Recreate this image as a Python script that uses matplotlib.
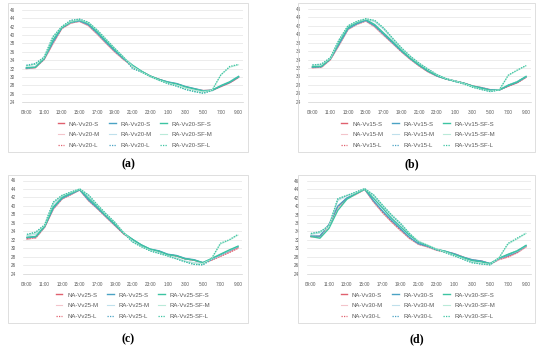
import matplotlib
matplotlib.use("Agg")
import matplotlib.pyplot as plt
from matplotlib.patches import Rectangle

# horas (eje x, una por hora, etiqueta cada dos)
hours = ["09:00", "10:00", "11:00", "12:00", "13:00", "14:00", "15:00", "16:00",
         "17:00", "18:00", "19:00", "20:00", "21:00", "22:00", "23:00", "0:00",
         "1:00", "2:00", "3:00", "4:00", "5:00", "6:00", "7:00", "8:00", "9:00"]
yticks = [24, 26, 28, 30, 32, 34, 36, 38, 40, 42, 44, 46]

# panel (a) Vv20
a_na_s = [32.0, 32.2, 34.2, 38.0, 41.6, 42.9, 43.3, 42.3, 40.3, 38.1, 36.0, 34.2, 32.6, 31.3, 30.2, 29.4, 28.7, 28.3, 27.6, 27.1, 26.7, 26.8, 27.7, 28.6, 29.9]
a_ra_s = [32.1, 32.3, 34.3, 38.3, 41.7, 43.0, 43.4, 42.5, 40.5, 38.3, 36.2, 34.3, 32.7, 31.3, 30.2, 29.4, 28.8, 28.4, 27.7, 27.2, 26.7, 26.8, 27.8, 28.7, 30.0]
a_sf_s = [32.2, 32.3, 34.4, 38.8, 41.8, 43.1, 43.6, 42.8, 40.8, 38.6, 36.5, 34.5, 32.8, 31.4, 30.2, 29.4, 28.7, 28.3, 27.6, 27.1, 26.6, 26.8, 27.9, 28.8, 30.1]
a_na_m = [32.0, 32.2, 34.1, 37.9, 41.5, 42.8, 43.3, 42.2, 40.2, 38.0, 35.9, 34.1, 32.6, 31.3, 30.2, 29.4, 28.8, 28.4, 27.7, 27.2, 26.8, 26.9, 27.8, 28.7, 30.0]
a_ra_m = [32.3, 32.5, 34.5, 39.0, 41.9, 43.1, 43.6, 43.0, 41.0, 38.8, 36.7, 34.6, 32.8, 31.4, 30.2, 29.3, 28.6, 28.2, 27.5, 27.0, 26.6, 26.8, 28.0, 28.9, 30.2]
a_sf_m = [32.6, 33.0, 34.6, 39.5, 42.0, 43.3, 43.7, 43.0, 41.2, 39.0, 36.8, 34.7, 32.5, 31.2, 30.1, 29.2, 28.5, 28.0, 27.3, 26.8, 26.4, 26.8, 30.5, 32.3, 32.9]
a_na_l = [32.1, 32.3, 34.2, 38.1, 41.6, 42.9, 43.4, 42.4, 40.4, 38.2, 36.1, 34.2, 32.6, 31.3, 30.2, 29.4, 28.7, 28.2, 27.5, 27.0, 26.6, 26.8, 27.7, 28.6, 29.9]
a_ra_l = [32.8, 33.2, 34.7, 39.6, 42.0, 43.5, 43.8, 43.0, 41.2, 39.0, 36.8, 34.7, 32.0, 31.2, 30.1, 29.2, 28.4, 27.8, 27.0, 26.5, 26.1, 26.7, 27.9, 28.8, 30.1]
a_sf_l = [32.7, 33.1, 34.7, 39.6, 42.0, 43.5, 43.8, 43.1, 41.2, 39.0, 36.8, 34.7, 32.1, 31.2, 30.1, 29.2, 28.4, 27.8, 27.0, 26.5, 26.1, 26.8, 30.5, 32.5, 33.0]

# panel (b) Vv15
b_na_s = [32.1, 32.2, 34.0, 37.5, 41.2, 42.4, 43.2, 41.8, 39.8, 37.9, 35.9, 34.1, 32.5, 31.1, 30.1, 29.4, 28.9, 28.4, 27.7, 27.3, 26.8, 26.8, 27.7, 28.5, 29.8]
b_ra_s = [32.2, 32.3, 34.1, 37.7, 41.3, 42.5, 43.3, 42.0, 40.0, 38.0, 36.0, 34.2, 32.6, 31.2, 30.1, 29.4, 28.9, 28.4, 27.7, 27.3, 26.8, 26.8, 27.8, 28.6, 29.9]
b_sf_s = [32.3, 32.4, 34.2, 38.2, 41.6, 42.8, 43.5, 42.3, 40.3, 38.3, 36.2, 34.3, 32.7, 31.3, 30.2, 29.4, 28.9, 28.4, 27.7, 27.2, 26.7, 26.8, 27.9, 28.7, 30.0]
b_na_m = [32.0, 32.1, 33.9, 37.4, 41.1, 42.3, 43.1, 41.7, 39.7, 37.8, 35.8, 34.0, 32.5, 31.1, 30.1, 29.4, 28.9, 28.4, 27.8, 27.4, 26.9, 26.9, 27.8, 28.6, 29.8]
b_ra_m = [32.5, 32.7, 34.3, 38.5, 41.9, 42.9, 43.6, 43.0, 41.2, 38.9, 36.6, 34.6, 33.0, 31.6, 30.4, 29.5, 28.9, 28.3, 27.6, 27.0, 26.6, 26.8, 28.0, 28.8, 30.0]
b_sf_m = [32.6, 32.8, 34.3, 38.6, 42.0, 43.0, 43.6, 43.2, 41.4, 39.0, 36.7, 34.7, 33.1, 31.7, 30.4, 29.5, 28.9, 28.3, 27.5, 26.9, 26.5, 26.8, 30.2, 31.4, 32.5]
b_na_l = [32.1, 32.2, 34.0, 37.6, 41.3, 42.4, 43.2, 41.9, 39.9, 37.9, 35.9, 34.1, 32.5, 31.1, 30.1, 29.4, 28.9, 28.4, 27.7, 27.3, 26.8, 26.8, 27.7, 28.5, 29.8]
b_ra_l = [32.7, 32.9, 34.4, 38.7, 42.0, 43.0, 43.6, 43.2, 41.4, 39.0, 36.7, 34.7, 33.1, 31.7, 30.4, 29.5, 28.8, 28.3, 27.5, 26.9, 26.4, 26.8, 27.9, 28.7, 30.0]
b_sf_l = [32.7, 32.9, 34.4, 38.7, 42.0, 43.1, 43.7, 43.3, 41.5, 39.1, 36.8, 34.8, 33.1, 31.7, 30.4, 29.5, 28.8, 28.2, 27.4, 26.9, 26.4, 26.8, 30.3, 31.5, 32.6]

# panel (c) Vv25
c_na_s = [32.2, 32.5, 35.0, 39.3, 41.7, 42.7, 43.8, 41.3, 39.4, 37.4, 35.4, 33.4, 32.0, 30.7, 29.7, 29.3, 28.5, 28.2, 27.5, 27.2, 26.5, 27.3, 28.2, 29.1, 30.1]
c_ra_s = [32.5, 32.7, 35.1, 39.5, 41.8, 42.8, 43.8, 41.4, 39.5, 37.5, 35.5, 33.5, 32.1, 30.8, 29.8, 29.4, 28.6, 28.3, 27.6, 27.3, 26.6, 27.5, 28.4, 29.4, 30.4]
c_sf_s = [32.6, 32.8, 35.2, 39.8, 42.0, 43.0, 43.9, 41.8, 39.8, 37.7, 35.7, 33.6, 32.1, 30.8, 29.8, 29.3, 28.5, 28.2, 27.5, 27.2, 26.6, 27.6, 28.6, 29.6, 30.5]
c_na_m = [32.2, 32.4, 34.9, 39.2, 41.6, 42.7, 43.7, 41.2, 39.3, 37.3, 35.4, 33.4, 32.0, 30.6, 29.6, 29.2, 28.5, 28.2, 27.5, 27.2, 26.6, 27.2, 28.1, 29.0, 30.0]
c_ra_m = [32.9, 33.3, 35.3, 40.5, 42.3, 43.1, 43.9, 42.3, 40.0, 38.0, 36.0, 33.7, 31.8, 30.5, 29.6, 29.0, 28.3, 27.7, 27.0, 26.6, 26.5, 27.4, 28.4, 29.4, 30.4]
c_sf_m = [33.1, 33.6, 35.4, 40.8, 42.5, 43.2, 44.0, 42.5, 40.2, 38.0, 36.1, 33.7, 31.6, 30.4, 29.5, 28.9, 28.2, 27.6, 26.9, 26.5, 26.4, 27.5, 31.0, 31.9, 33.1]
c_na_l = [32.3, 32.5, 35.0, 39.4, 41.7, 42.7, 43.8, 41.3, 39.4, 37.4, 35.4, 33.4, 32.0, 30.6, 29.6, 29.2, 28.5, 28.2, 27.5, 27.2, 26.6, 27.2, 28.1, 29.0, 30.0]
c_ra_l = [33.2, 33.8, 35.5, 40.9, 42.5, 43.2, 44.0, 42.5, 40.2, 38.1, 36.1, 33.6, 31.5, 30.4, 29.4, 28.8, 28.2, 27.5, 26.8, 26.2, 26.1, 27.3, 28.5, 29.5, 30.4]
c_sf_l = [33.3, 33.8, 35.5, 40.9, 42.5, 43.3, 44.0, 42.6, 40.3, 38.1, 36.1, 33.6, 31.5, 30.4, 29.4, 28.8, 28.2, 27.5, 26.8, 26.2, 26.1, 27.6, 31.2, 32.0, 33.3]

# panel (d) Vv30
d_na_s = [32.8, 32.8, 35.5, 39.8, 41.8, 42.8, 44.0, 41.0, 38.5, 36.3, 34.3, 32.4, 31.0, 30.4, 29.6, 29.2, 28.7, 27.9, 27.2, 27.0, 26.3, 27.4, 28.0, 29.0, 30.4]
d_ra_s = [32.9, 32.9, 35.6, 40.0, 41.9, 42.9, 44.0, 41.2, 38.8, 36.6, 34.6, 32.6, 31.1, 30.5, 29.7, 29.3, 28.7, 27.9, 27.3, 27.0, 26.4, 27.6, 28.3, 29.2, 30.6]
d_sf_s = [32.8, 32.4, 34.7, 39.0, 41.6, 42.9, 44.0, 41.8, 39.5, 37.1, 35.1, 33.1, 31.6, 30.7, 29.8, 29.3, 28.5, 27.8, 27.1, 26.8, 26.4, 27.7, 28.6, 29.4, 30.7]
d_na_m = [32.7, 32.7, 35.4, 39.7, 41.7, 42.7, 43.9, 40.9, 38.4, 36.2, 34.2, 32.3, 30.9, 30.3, 29.5, 29.1, 28.7, 27.9, 27.2, 27.0, 26.3, 27.3, 27.9, 28.9, 30.3]
d_ra_m = [33.3, 33.6, 35.3, 41.3, 42.4, 43.1, 44.0, 42.4, 40.0, 37.7, 35.6, 33.4, 31.6, 30.7, 29.8, 29.2, 28.4, 27.6, 26.8, 26.4, 26.2, 27.6, 28.5, 29.3, 30.6]
d_sf_m = [33.4, 33.8, 35.2, 41.6, 42.5, 43.2, 44.1, 42.6, 40.2, 37.9, 35.9, 33.5, 31.7, 30.8, 29.8, 29.1, 28.3, 27.5, 26.7, 26.4, 26.2, 27.8, 31.0, 32.2, 33.5]
d_na_l = [32.8, 32.8, 35.5, 39.8, 41.8, 42.8, 44.0, 41.0, 38.5, 36.3, 34.3, 32.4, 31.0, 30.4, 29.6, 29.2, 28.7, 27.9, 27.2, 27.0, 26.3, 27.4, 28.0, 29.0, 30.4]
d_ra_l = [33.5, 33.9, 35.3, 41.7, 42.5, 43.3, 44.1, 42.6, 40.1, 37.8, 35.8, 33.5, 31.4, 30.6, 29.7, 29.0, 28.2, 27.4, 26.6, 26.3, 26.1, 27.6, 28.5, 29.4, 30.6]
d_sf_l = [33.5, 33.9, 35.3, 41.7, 42.5, 43.3, 44.1, 42.6, 40.2, 37.9, 35.9, 33.5, 31.5, 30.7, 29.7, 29.0, 28.2, 27.4, 26.6, 26.3, 26.1, 27.8, 31.2, 32.4, 33.6]

W, H = 550, 347
fig = plt.figure(figsize=(5.5, 3.47), dpi=100)
plt.rcParams['font.family'] = ['Liberation Sans', 'DejaVu Sans']

c_na = '#e0606e'
c_ra = '#4aa3c4'
c_sf = '#3cc4a2'
c_na_pale = '#f3c4ca'
c_ra_pale = '#bfe0ec'
c_sf_pale = '#b9ead9'


def fx(px):
    return px / W


def fy(py):
    return 1 - py / H


def panel(box, ax_rect, tag, letter, cap_xy, leg_xy, series):
    # caja del grafico (estilo excel)
    bx0, by0, bx1, by1 = box
    fig.patches.append(Rectangle((fx(bx0), fy(by1)), fx(bx1 - bx0), (by1 - by0) / H,
                                 transform=fig.transFigure, fill=False,
                                 edgecolor='#d9d9d9', linewidth=0.6))
    l, t, r, b = ax_rect
    ax = fig.add_axes([fx(l), fy(b), fx(r - l), (b - t) / H])
    x = range(len(hours))
    styles = [
        ('NA-%s-S', c_na, '-', 1.0),
        ('NA-%s-M', c_na_pale, '-', 0.8),
        ('NA-%s-L', c_na, (0, (1, 1)), 0.9),
        ('RA-%s-S', c_ra, '-', 1.0),
        ('RA-%s-M', c_ra_pale, '-', 0.8),
        ('RA-%s-L', c_ra, (0, (1, 1)), 0.9),
        ('RA-%s-SF-S', c_sf, '-', 1.0),
        ('RA-%s-SF-M', c_sf_pale, '-', 0.8),
        ('RA-%s-SF-L', c_sf, (0, (1, 1)), 0.9),
    ]
    handles = []
    for (lab, col, ls, lw), ys in zip(styles, series):
        h, = ax.plot(x, ys, color=col, linestyle=ls, linewidth=lw, label=lab % tag)
        handles.append(h)
    ax.set_xlim(-0.5, len(hours) - 0.5)
    ax.set_ylim(24, 46)
    ax.set_yticks(yticks)
    ax.set_xticks(list(x)[::2])
    ax.set_xticklabels(hours[::2])
    ax.tick_params(axis='both', length=0, labelsize=3.3, colors='#595959')
    ax.tick_params(axis='x', pad=6)
    ax.tick_params(axis='y', pad=5)
    ax.grid(axis='y', color='#e4e4e4', linewidth=0.5)
    ax.set_axisbelow(True)
    for s in ['left', 'right', 'top']:
        ax.spines[s].set_visible(False)
    ax.spines['bottom'].set_color('#d0d0d0')
    ax.spines['bottom'].set_linewidth(0.5)
    fig.legend(handles=handles, ncol=3, loc='upper center',
               bbox_to_anchor=(fx(leg_xy[0]), fy(leg_xy[1])), frameon=False,
               fontsize=4.3, handlelength=1.1, handletextpad=0.8,
               columnspacing=1.5, labelspacing=0.95, labelcolor='#595959')
    fig.text(fx(cap_xy[0]), fy(cap_xy[1]), '(' + letter + ')', ha='center', va='center',
             fontsize=8.5, fontweight='bold', family='Liberation Serif')


panel((8, 3, 248, 152), (22, 10, 243, 102), 'Vv20', 'a', (128, 164), (135, 116),
      [a_na_s, a_na_m, a_na_l, a_ra_s, a_ra_m, a_ra_l, a_sf_s, a_sf_m, a_sf_l])
panel((298, 3, 535, 152), (308, 9, 530.5, 101.7), 'Vv15', 'b', (412, 164), (418, 116),
      [b_na_s, b_na_m, b_na_l, b_ra_s, b_ra_m, b_ra_l, b_sf_s, b_sf_m, b_sf_l])
panel((8, 175, 248, 323), (22.6, 180.5, 242.4, 273.7), 'Vv25', 'c', (128, 339), (133, 287),
      [c_na_s, c_na_m, c_na_l, c_ra_s, c_ra_m, c_ra_l, c_sf_s, c_sf_m, c_sf_l])
panel((298, 175, 535, 323), (306.5, 180.7, 530.5, 273.7), 'Vv30', 'd', (417, 339), (418, 287),
      [d_na_s, d_na_m, d_na_l, d_ra_s, d_ra_m, d_ra_l, d_sf_s, d_sf_m, d_sf_l])

fig.savefig('out.png', dpi=100)
